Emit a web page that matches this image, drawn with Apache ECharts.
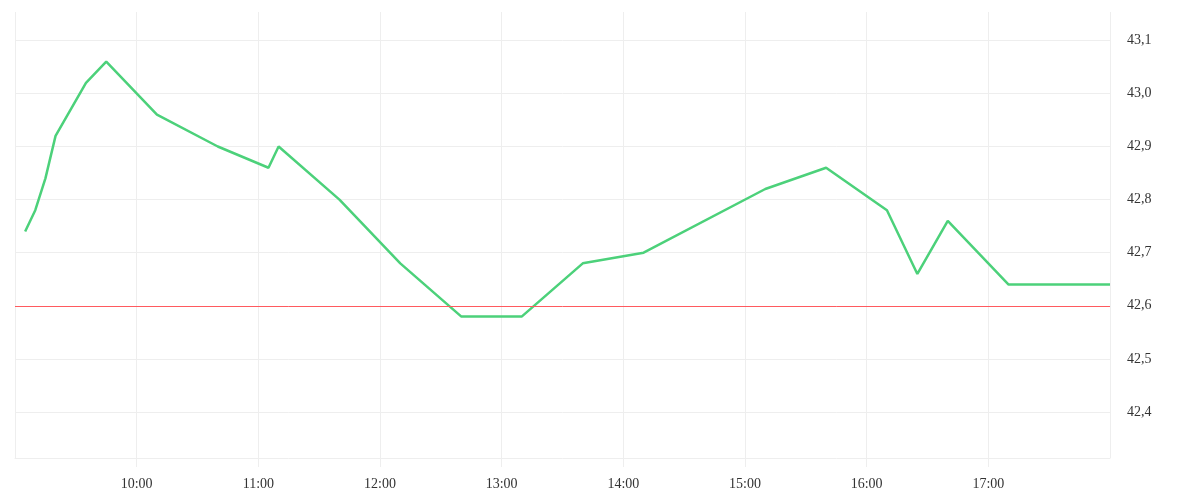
<!DOCTYPE html>
<html>
<head>
<meta charset="utf-8">
<script src="https://cdn.jsdelivr.net/npm/echarts@6/dist/echarts.min.js"></script>
<style>
html,body{margin:0;padding:0;background:#fff;}
#chart{width:1200px;height:500px;}
</style>
</head>
<body>
<div id="chart"></div>
<script>
const times = ['09:05','09:10','09:15','09:20','09:35','09:45','10:10','10:40','11:05','11:10','11:40','12:10','12:40','13:10','13:40','14:10','15:10','15:40','16:10','16:25','16:40','17:10','18:00'];
const prices = [42.74,42.78,42.84,42.92,43.02,43.06,42.96,42.90,42.86,42.90,42.80,42.68,42.58,42.58,42.68,42.70,42.82,42.86,42.78,42.66,42.76,42.64,42.64];
const yTicks = [42.4,42.5,42.6,42.7,42.8,42.9,43.0,43.1];
const refLevel = 42.6;

function toHours(t){ const p = t.split(':'); return +p[0] + (+p[1])/60; }
const data = times.map((t,i)=>[toHours(t), prices[i]]);

const fontFamily = 'Liberation Serif';
const chart = echarts.init(document.getElementById('chart'), null, {renderer:'canvas'});
chart.setOption({
  animation:false,
  backgroundColor:'#fff',
  grid:{left:15,right:90,top:12,bottom:42,containLabel:false},
  xAxis:{
    type:'value', min:9, max:18, interval:1,
    axisLine:{show:true,lineStyle:{color:'#eeeeee',width:1}},
    axisTick:{show:true,length:9,lineStyle:{color:'#eeeeee',width:1}},
    splitLine:{show:true,lineStyle:{color:'#eeeeee',width:1}},
    axisLabel:{
      showMinLabel:false, showMaxLabel:false, margin:19,
      color:'#333', fontSize:14, fontFamily:fontFamily,
      formatter:v=> (v<10?'0':'')+v+':00'
    }
  },
  yAxis:{
    type:'value', position:'right', min:42.3134, max:43.1533, scale:true,
    axisLine:{show:false},
    axisTick:{show:false, customValues:yTicks},
    splitLine:{show:true,lineStyle:{color:'#eeeeee',width:1}},
    axisLabel:{
      customValues:yTicks, margin:17,
      color:'#333', fontSize:14, fontFamily:fontFamily,
      formatter:v=> v.toFixed(1).replace('.',',')
    }
  },
  series:[{
    type:'line', data:data, showSymbol:false, symbol:'none',
    lineStyle:{color:'#4cd17a',width:2.5},
    itemStyle:{color:'#4cd17a'},
    markLine:{
      silent:true, symbol:'none', label:{show:false},
      lineStyle:{color:'#ff5a5f',width:1,type:'solid'},
      emphasis:{disabled:true},
      data:[{yAxis:refLevel}]
    }
  }]
});
</script>
</body>
</html>
